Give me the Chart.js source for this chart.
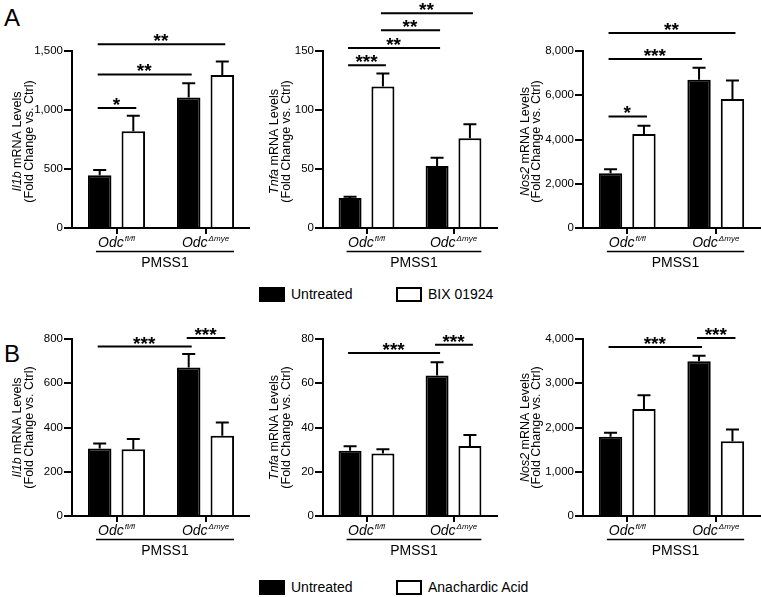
<!DOCTYPE html>
<html>
<head>
<meta charset="utf-8">
<script src="https://cdn.jsdelivr.net/npm/chart.js"></script>
<style>
  body{margin:0;background:#fff;width:762px;height:597px;position:relative;overflow:hidden;font-family:"Liberation Sans",Arial,Helvetica,sans-serif;color:#000}
  canvas{position:absolute}
  .letter{position:absolute;font-size:24px;line-height:24px}
  .leg{position:absolute;font-size:14px;line-height:15px;display:flex;align-items:center;white-space:nowrap}
  .box{display:inline-block;box-sizing:border-box;border:2px solid #000;width:26px;height:15px;margin-right:6px}
</style>
</head>
<body>
<div class="letter" style="left:4px;top:6px">A</div>
<div class="letter" style="left:4px;top:342px">B</div>
<div id="legA"></div>
<div id="legB"></div>

<script>
  // genotype superscripts on the Odc label, and the series names
  const groups = ['fl/fl', '\u0394mye'];
  const ctrlName = 'Untreated';
  const treatA = 'BIX 01924';
  const treatB = 'Anachardic Acid';
  const genes = ['Il1b', 'Tnfa', 'Nos2'];

  // panel A : mean and SEM, [Odc fl/fl, Odc Δmye]
  const aIl1bCtrl = [447, 1105], aIl1bCtrlSem = [44, 122];
  const aIl1bTrt  = [819, 1297], aIl1bTrtSem  = [133, 113];
  const aTnfaCtrl = [25.5, 52.5], aTnfaCtrlSem = [1, 7];
  const aTnfaTrt  = [120, 76],   aTnfaTrtSem  = [11, 12];
  const aNos2Ctrl = [2470, 6700], aNos2CtrlSem = [180, 545];
  const aNos2Trt  = [4245, 5835], aNos2TrtSem  = [380, 835];

  // panel B
  const bIl1bCtrl = [305, 671], bIl1bCtrlSem = [23, 61];
  const bIl1bTrt  = [302, 363], bIl1bTrtSem  = [46, 60];
  const bTnfaCtrl = [29.5, 63.5], bTnfaCtrlSem = [2, 6];
  const bTnfaTrt  = [28.2, 31.6], bTnfaTrtSem  = [2, 5];
  const bNos2Ctrl = [1790, 3500], bNos2CtrlSem = [90, 120];
  const bNos2Trt  = [2417, 1689], bNos2TrtSem  = [310, 266];

  // y axis [max, step]
  const aTicks = [[1500, 500], [150, 50], [8000, 2000]];
  const bTicks = [[800, 200], [80, 20], [4000, 1000]];

  // significance: [bar from, bar to, level, stars]; bars 0,1 = fl/fl ctrl,trt ; 2,3 = Δmye ctrl,trt
  const aIl1bSig = [[0, 1, 1017, '*'], [0, 2, 1301, '**'], [0, 3, 1557, '**']];
  const aTnfaSig = [[0, 1, 138, '***'], [0, 2, 152.5, '**'], [1, 2, 167.5, '**'], [1, 3, 182, '**']];
  const aNos2Sig = [[0, 1, 5045, '*'], [0, 2, 7636, '***'], [0, 3, 8818, '**']];
  const bIl1bSig = [[0, 2, 766, '***'], [2, 3, 804, '***']];
  const bTnfaSig = [[0, 2, 73.7, '***'], [2, 3, 77.4, '***']];
  const bNos2Sig = [[0, 2, 3818, '***'], [2, 3, 4023, '***']];

  const FONT = '"Liberation Sans", Arial, Helvetica, sans-serif';

  // layout of the 3 columns / 2 rows
  const cols = [
    {left: 0,   w: 250, yW: 72, padR: 0, tx: [18, 29.5]},
    {left: 250, w: 255, yW: 73, padR: 8, tx: [25, 36.5]},
    {left: 505, w: 257, yW: 78, padR: 2, tx: [20.5, 32]}
  ];
  const rows = [
    {top: 0, h: 280, padT: 51, xH: 52, tOff: 2},
    {top: 290, h: 280, padT: 49, xH: 54, tOff: 0}
  ];

  const panels = [
    {r: 0, c: 0, gene: genes[0], trt: treatA, ctrl: aIl1bCtrl, ctrlSem: aIl1bCtrlSem, trtV: aIl1bTrt, trtSem: aIl1bTrtSem, ticks: aTicks[0], sig: aIl1bSig},
    {r: 0, c: 1, gene: genes[1], trt: treatA, ctrl: aTnfaCtrl, ctrlSem: aTnfaCtrlSem, trtV: aTnfaTrt, trtSem: aTnfaTrtSem, ticks: aTicks[1], sig: aTnfaSig},
    {r: 0, c: 2, gene: genes[2], trt: treatA, ctrl: aNos2Ctrl, ctrlSem: aNos2CtrlSem, trtV: aNos2Trt, trtSem: aNos2TrtSem, ticks: aTicks[2], sig: aNos2Sig},
    {r: 1, c: 0, gene: genes[0], trt: treatB, ctrl: bIl1bCtrl, ctrlSem: bIl1bCtrlSem, trtV: bIl1bTrt, trtSem: bIl1bTrtSem, ticks: bTicks[0], sig: bIl1bSig},
    {r: 1, c: 1, gene: genes[1], trt: treatB, ctrl: bTnfaCtrl, ctrlSem: bTnfaCtrlSem, trtV: bTnfaTrt, trtSem: bTnfaTrtSem, ticks: bTicks[1], sig: bTnfaSig},
    {r: 1, c: 2, gene: genes[2], trt: treatB, ctrl: bNos2Ctrl, ctrlSem: bNos2CtrlSem, trtV: bNos2Trt, trtSem: bNos2TrtSem, ticks: bTicks[2], sig: bNos2Sig}
  ];

  const commas = v => String(v).replace(/\B(?=(\d{3})+(?!\d))/g, ',');
  const barEl = (chart, k) => chart.getDatasetMeta(k % 2).data[Math.floor(k / 2)];

  function makeDecor(p, col, row){
    return {
      id: 'decor',
      afterDatasetsDraw(chart){
        const c = chart.ctx, y = chart.scales.y;
        c.save(); c.strokeStyle = '#000'; c.lineWidth = 2;
        [p.ctrlSem, p.trtSem].forEach((sem, di) => {
          chart.getDatasetMeta(di).data.forEach((el, j) => {
            const top = y.getPixelForValue(chart.data.datasets[di].data[j] + sem[j]);
            c.beginPath();
            c.moveTo(el.x, el.y); c.lineTo(el.x, top);
            c.moveTo(el.x - 6.5, top); c.lineTo(el.x + 6.5, top);
            c.stroke();
          });
        });
        c.restore();
      },
      afterDraw(chart){
        const c = chart.ctx, y = chart.scales.y, xs = chart.scales.x, ca = chart.chartArea;
        c.save();
        c.fillStyle = '#000'; c.strokeStyle = '#000';

        // significance bars
        p.sig.forEach(([a, b, v, label]) => {
          const ea = barEl(chart, a), eb = barEl(chart, b);
          const ly = y.getPixelForValue(v);
          c.lineWidth = 2;
          c.beginPath(); c.moveTo(ea.x - 2, ly); c.lineTo(eb.x + 3, ly); c.stroke();
          c.font = 'bold 19px ' + FONT; c.textAlign = 'center'; c.textBaseline = 'alphabetic';
          c.fillText(label, (ea.x + eb.x) / 2, ly + 3);
        });

        // y title, two lines, gene in italics
        const cy = (ca.top + ca.bottom) / 2 + row.tOff;
        const fs = '12.5px ';
        c.font = 'italic ' + fs + FONT; const w1 = c.measureText(p.gene).width;
        c.font = fs + FONT; const rest = ' mRNA Levels'; const w2 = c.measureText(rest).width;
        c.save();
        c.translate(col.tx[0], cy); c.rotate(-Math.PI / 2);
        c.textAlign = 'left'; c.textBaseline = 'middle';
        c.font = 'italic ' + fs + FONT; c.fillText(p.gene, -(w1 + w2) / 2, 0);
        c.font = fs + FONT; c.fillText(rest, -(w1 + w2) / 2 + w1, 0);
        c.restore();
        c.save();
        c.translate(col.tx[1], cy); c.rotate(-Math.PI / 2);
        c.textAlign = 'center'; c.textBaseline = 'middle'; c.font = fs + FONT;
        c.fillText('(Fold Change vs. Ctrl)', 0, 0);
        c.restore();

        // x labels Odc^sup
        c.textAlign = 'left'; c.textBaseline = 'alphabetic';
        groups.forEach((sup, i) => {
          const cx = xs.getPixelForValue(i);
          c.font = 'italic 14px ' + FONT; const a = c.measureText('Odc').width;
          c.font = 'italic 8px ' + FONT; const b = c.measureText(sup).width;
          const x0 = cx - (a + b + 1) / 2;
          c.font = 'italic 14px ' + FONT; c.fillText('Odc', x0, ca.bottom + 19);
          c.font = 'italic 8px ' + FONT; c.fillText(sup, x0 + a + 1, ca.bottom + 13);
        });

        // PMSS1 bracket
        const e0 = barEl(chart, 0), e3 = barEl(chart, 3);
        const lx0 = e0.x - e0.width / 2 + 8, lx1 = e3.x + e3.width / 2;
        c.lineWidth = 1.5;
        c.beginPath(); c.moveTo(lx0, ca.bottom + 23.5); c.lineTo(lx1, ca.bottom + 23.5); c.stroke();
        c.font = '14px ' + FONT; c.textAlign = 'center';
        c.fillText('PMSS1', (lx0 + lx1) / 2, ca.bottom + 39);
        c.restore();
      }
    };
  }

  function build(p){
    const col = cols[p.c], row = rows[p.r];
    const cv = document.createElement('canvas');
    cv.width = col.w; cv.height = row.h;
    cv.style.left = col.left + 'px'; cv.style.top = row.top + 'px';
    document.body.appendChild(cv);

    new Chart(cv.getContext('2d'), {
      type: 'bar',
      data: {
        labels: groups,
        datasets: [
          {label: ctrlName, data: p.ctrl, backgroundColor: '#000', borderColor: '#000', borderWidth: 2},
          {label: p.trt, data: p.trtV, backgroundColor: '#fff', borderColor: '#000', borderWidth: 2}
        ]
      },
      options: {
        responsive: false, animation: false, devicePixelRatio: 1,
        layout: {padding: {top: row.padT, right: col.padR, left: 0, bottom: 0}},
        datasets: {bar: {categoryPercentage: 0.755, barPercentage: 0.70}},
        plugins: {legend: {display: false}, tooltip: {enabled: false}},
        scales: {
          x: {
            ticks: {display: false},
            grid: {drawOnChartArea: false, offset: false, color: '#000', lineWidth: 2, tickLength: 6},
            border: {color: '#000', width: 2},
            afterFit(s){ s.height = row.xH; }
          },
          y: {
            min: 0, max: p.ticks[0],
            ticks: {stepSize: p.ticks[1], color: '#000', padding: 1, font: {family: FONT, size: 11.5}, callback: v => commas(v)},
            grid: {drawOnChartArea: false, color: '#000', lineWidth: 2, tickLength: 8},
            border: {color: '#000', width: 2},
            afterFit(s){ s.width = col.yW; }
          }
        }
      },
      plugins: [makeDecor(p, col, row)]
    });
  }

  panels.forEach(build);

  // shared legends as html
  function legend(id, top, items){
    const host = document.getElementById(id);
    items.forEach(([left, fill, text]) => {
      const d = document.createElement('div');
      d.className = 'leg'; d.style.left = left + 'px'; d.style.top = top + 'px';
      const b = document.createElement('span'); b.className = 'box'; b.style.background = fill;
      d.appendChild(b); d.appendChild(document.createTextNode(text));
      host.appendChild(d);
    });
  }
  legend('legA', 287, [[259, '#000', ctrlName], [396, '#fff', treatA]]);
  legend('legB', 580, [[259, '#000', ctrlName], [396, '#fff', treatB]]);
</script>
</body>
</html>
